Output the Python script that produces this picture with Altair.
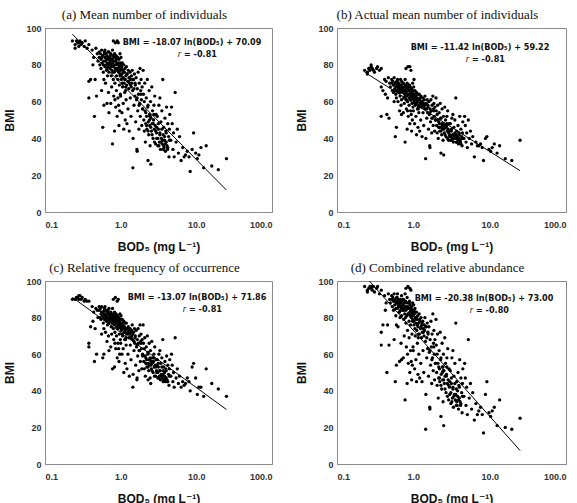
import math

import altair as alt
import pandas as pd

# BOD5 concentration (mg/L) at each sampling site; shared by all four panels
bod5 = [
    0.23, 0.25, 0.26, 0.27, 0.28, 0.29, 0.30, 0.31, 0.33, 0.34, 0.36, 0.38, 0.25, 0.28,
    0.38, 0.38, 0.40, 0.42, 0.44, 0.45, 0.46, 0.47, 0.48, 0.49, 0.50, 0.43,
    0.52, 0.52, 0.53, 0.54, 0.55, 0.55, 0.56, 0.57, 0.58, 0.58, 0.59, 0.60, 0.60, 0.61, 0.62, 0.62, 0.63,
    0.64, 0.64, 0.65, 0.65, 0.66, 0.66, 0.67, 0.67, 0.68, 0.68, 0.69, 0.69, 0.70, 0.70, 0.70, 0.56, 0.60,
    0.72, 0.72, 0.73, 0.74, 0.74, 0.75, 0.75, 0.76, 0.77, 0.78, 0.78, 0.79, 0.80, 0.80, 0.80, 0.81, 0.82,
    0.82, 0.83, 0.83, 0.84, 0.85, 0.85, 0.86, 0.86, 0.87, 0.88, 0.88, 0.89, 0.90, 0.90, 0.90, 0.91, 0.92,
    0.92, 0.93, 0.93, 0.94, 0.95, 0.95, 0.96, 0.97, 0.97, 0.98, 0.98, 0.99, 0.99, 0.76, 0.84, 0.94,
    1.00, 1.00, 1.01, 1.02, 1.03, 1.04, 1.04, 1.05, 1.06, 1.07, 1.08, 1.08, 1.10, 1.10, 1.11, 1.12, 1.13,
    1.14, 1.15, 1.15, 1.17, 1.18, 1.19, 1.20, 1.21, 1.22, 1.24, 1.25, 1.26, 1.28, 1.29, 1.30, 1.31, 1.33,
    1.34, 1.35, 1.37, 1.38, 1.39, 1.02,
    1.42, 1.44, 1.45, 1.46, 1.48, 1.50, 1.52, 1.54, 1.56, 1.58, 1.60, 1.62, 1.64, 1.65, 1.66, 1.68, 1.70,
    1.72, 1.74, 1.76, 1.78, 1.80, 1.82, 1.84, 1.86, 1.88, 1.90, 1.92, 1.95, 1.98,
    2.00, 2.02, 2.05, 2.08, 2.10, 2.12, 2.15, 2.18, 2.20, 2.22, 2.25, 2.28, 2.30, 2.32, 2.35, 2.38, 2.40,
    2.42, 2.45, 2.48, 2.50, 2.52, 2.55, 2.58, 2.60, 2.64, 2.68, 2.72, 2.75, 2.78, 2.82, 2.86, 2.90, 2.94, 2.98,
    3.00, 3.05, 3.10, 3.15, 3.20, 3.25, 3.30, 3.35, 3.40, 3.45, 3.50, 3.55, 3.60, 3.65, 3.70, 3.75, 3.80,
    3.85, 3.90, 3.95, 4.00, 4.05, 4.10, 4.20, 4.30, 4.35, 4.40, 4.45, 3.30, 4.15,
    4.60, 4.70, 4.80, 4.90, 5.00, 5.10, 5.25, 5.40, 5.60, 5.80, 6.00, 6.30, 6.60, 6.90,
    7.20, 7.60, 8.00, 8.30, 8.80, 9.20, 9.80, 10.3, 10.8, 11.5,
    12.5, 13.5, 16.0, 19.5, 25.0,
    0.56, 0.59, 0.61, 0.63, 0.66, 0.68, 0.71, 0.73, 0.75, 0.77, 0.79, 0.81, 0.83, 0.85, 0.87, 0.89, 0.91,
    0.93, 0.96, 0.98, 0.62, 0.70, 0.78, 0.88, 0.95,
    1.01, 1.05, 1.09, 1.13, 1.17, 1.21, 1.26, 1.30, 1.35, 1.40, 1.45, 1.50, 1.55, 1.03, 1.16,
    2.2, 2.3, 2.4, 2.5, 2.6, 2.7, 2.8, 2.9, 3.0, 3.1, 3.2, 3.3, 3.4, 3.5, 3.6, 3.7, 3.8, 3.9, 4.0, 4.2,
    4.4, 2.45, 2.75, 3.15, 3.65,
    1.65, 1.75, 1.85, 1.95, 2.05, 2.15, 2.3, 2.45,
]

# BMI computed from the mean number of individuals
bmi_mean = [
    93, 91, 93, 92, 90, 93, 91, 92, 90, 93, 89, 91, 89, 92,
    71, 62, 72, 88, 84, 52, 72, 89, 63, 86, 82, 80,
    87, 84, 80, 86, 83, 78, 88, 81, 46, 85, 76, 82, 58, 87, 79, 84, 70,
    86, 80, 77, 83, 59, 85, 81, 74, 87, 79, 83, 65, 80, 76, 54, 66, 72,
    84, 78, 82, 59, 86, 80, 74, 83, 77, 37, 81, 85, 93, 72, 79, 63, 84,
    76, 44, 80, 70, 92, 82, 57, 77, 85, 74, 66, 81, 93, 52, 78, 84, 62,
    72, 92, 80, 76, 47, 83, 69, 79, 55, 86, 74, 64, 81, 68, 61, 58,
    77, 63, 84, 72, 79, 54, 75, 81, 68, 77, 73, 59, 80, 45, 70, 76, 65,
    78, 50, 72, 74, 61, 79, 69, 48, 75, 71, 56, 77, 67, 73, 44, 70, 76,
    62, 72, 52, 68, 74, 80,
    77, 66, 24, 40, 72, 58, 75, 63, 69, 49, 73, 61, 34, 33, 67, 55, 76,
    64, 45, 70, 59, 78, 52, 66, 72, 61, 47, 68, 56, 77,
    64, 50, 44, 70, 55, 38, 48, 62, 52, 45, 72, 57, 28, 49, 42, 66, 53,
    47, 36, 60, 26, 51, 44, 68, 48, 55, 40, 50, 58, 45, 63, 47, 37, 53, 43,
    40, 52, 36, 45, 58, 38, 43, 34, 49, 40, 55, 37, 72, 42, 46, 35, 39,
    51, 33, 44, 38, 57, 36, 48, 41, 30, 45, 53, 62, 34,
    39, 57, 48, 34, 43, 30, 65, 38, 45, 32, 41, 28, 35, 30,
    31, 33, 30, 22, 34, 43, 32, 29, 31, 35,
    24, 36, 25, 23, 29,
    84, 80, 86, 82, 78, 84, 81, 85, 79, 83, 76, 82, 86, 78, 80, 84, 77,
    81, 79, 75, 88, 87, 88, 83, 78,
    74, 70, 76, 72, 68, 75, 71, 73, 69, 70, 72, 67, 70, 78, 66,
    47, 44, 50, 46, 42, 48, 38, 44, 46, 40, 36, 42, 38, 45, 39, 36, 41, 37, 43, 35,
    39, 52, 53, 48, 34,
    62, 58, 64, 56, 60, 54, 58, 52,
]

# BMI computed from the actual mean number of individuals
bmi_actual = [
    77, 76, 78, 77, 79, 78, 77, 76, 78, 79, 77, 78, 75, 80,
    68, 52, 66, 72, 71, 53, 62, 73, 51, 70, 68, 64,
    72, 70, 66, 71, 69, 65, 73, 67, 41, 70, 64, 68, 46, 71, 66, 69, 60,
    70, 67, 65, 68, 55, 69, 66, 63, 72, 67, 69, 58, 66, 61, 53, 60, 62,
    68, 65, 67, 54, 70, 66, 62, 68, 64, 38, 66, 69, 78, 61, 65, 56, 68,
    63, 45, 66, 60, 79, 67, 52, 64, 69, 62, 58, 66, 79, 48, 64, 68, 55,
    61, 77, 65, 63, 44, 67, 59, 65, 50, 70, 62, 57, 66, 59, 55, 53,
    63, 55, 68, 60, 64, 48, 62, 66, 58, 63, 61, 52, 65, 42, 59, 62, 56,
    64, 46, 60, 61, 54, 64, 58, 44, 62, 59, 50, 63, 57, 60, 41, 58, 62,
    54, 59, 47, 57, 61, 72,
    63, 56, 29, 40, 59, 51, 61, 54, 57, 45, 60, 53, 36, 35, 56, 49, 61,
    55, 43, 58, 51, 63, 47, 56, 59, 52, 44, 57, 50, 62,
    55, 47, 43, 58, 50, 40, 46, 54, 48, 44, 59, 51, 32, 46, 42, 56, 48,
    45, 39, 52, 31, 47, 43, 57, 46, 50, 41, 47, 52, 44, 55, 45, 39, 48, 42,
    41, 48, 39, 44, 51, 40, 42, 38, 46, 41, 50, 40, 62, 42, 44, 38, 40,
    47, 37, 43, 40, 52, 39, 45, 41, 36, 43, 49, 53, 38,
    40, 52, 47, 38, 43, 35, 50, 40, 44, 37, 41, 30, 38, 36,
    36, 37, 35, 28, 40, 41, 34, 33, 35, 37,
    32, 36, 29, 28, 39,
    69, 66, 71, 68, 65, 69, 67, 70, 66, 68, 63, 67, 70, 64, 66, 69, 63,
    66, 65, 62, 72, 71, 72, 68, 64,
    61, 59, 62, 60, 57, 61, 59, 60, 57, 58, 59, 56, 58, 63, 56,
    46, 44, 47, 45, 42, 46, 40, 43, 44, 41, 39, 42, 40, 43, 40, 38, 41, 39, 42, 37,
    40, 48, 48, 45, 38,
    54, 51, 55, 50, 53, 49, 51, 48,
]

# BMI computed from the relative frequency of occurrence
bmi_frequency = [
    90, 90, 91, 91, 90, 92, 90, 91, 89, 90, 89, 89, 90, 92,
    66, 64, 75, 86, 83, 56, 74, 85, 60, 84, 80, 78,
    86, 84, 80, 85, 82, 79, 86, 81, 58, 83, 77, 82, 60, 85, 79, 82, 72,
    84, 80, 78, 81, 67, 83, 80, 76, 84, 79, 82, 70, 79, 77, 62, 71, 74,
    81, 78, 80, 64, 83, 79, 75, 81, 77, 52, 80, 82, 90, 74, 78, 68, 81,
    76, 53, 79, 72, 91, 80, 63, 77, 82, 75, 70, 80, 89, 58, 78, 81, 66,
    74, 90, 79, 76, 56, 80, 71, 78, 60, 82, 75, 68, 79, 71, 66, 63,
    76, 66, 81, 73, 77, 60, 75, 79, 70, 76, 74, 63, 78, 50, 72, 75, 68,
    77, 55, 73, 74, 65, 77, 71, 52, 74, 72, 60, 75, 69, 73, 48, 71, 74,
    65, 72, 57, 69, 73, 79,
    76, 68, 42, 49, 72, 62, 74, 66, 70, 54, 73, 64, 46, 47, 68, 59, 74,
    66, 51, 70, 62, 76, 56, 67, 71, 63, 52, 68, 59, 76,
    66, 56, 52, 69, 59, 48, 55, 64, 57, 53, 70, 60, 46, 55, 51, 66, 57,
    54, 47, 62, 44, 56, 52, 67, 55, 58, 50, 56, 60, 53, 64, 54, 48, 57, 51,
    50, 57, 47, 53, 60, 48, 51, 46, 55, 49, 58, 47, 68, 51, 53, 46, 48,
    56, 45, 52, 47, 59, 46, 54, 49, 43, 52, 57, 62, 45,
    48, 60, 54, 45, 50, 42, 69, 47, 52, 44, 48, 42, 45, 43,
    44, 47, 45, 40, 53, 55, 47, 38, 42, 42,
    37, 52, 44, 41, 37,
    83, 80, 84, 81, 79, 83, 80, 82, 79, 81, 77, 80, 83, 78, 79, 81, 76,
    79, 78, 75, 86, 85, 85, 81, 77,
    74, 71, 75, 72, 69, 74, 71, 72, 69, 70, 71, 67, 69, 76, 68,
    55, 53, 57, 54, 51, 56, 48, 53, 54, 50, 47, 51, 48, 53, 49, 46, 50, 47, 51, 45,
    48, 58, 58, 55, 45,
    65, 62, 66, 60, 63, 58, 61, 57,
]

# BMI computed from the combined relative abundance
bmi_combined = [
    97, 95, 96, 97, 96, 95, 97, 94, 96, 97, 93, 95, 94, 97,
    72, 65, 76, 92, 88, 50, 76, 93, 65, 90, 88, 84,
    92, 90, 86, 91, 89, 84, 93, 87, 45, 90, 81, 88, 54, 91, 85, 89, 75,
    90, 86, 83, 88, 56, 87, 86, 80, 90, 84, 88, 66, 85, 81, 57, 68, 76,
    89, 84, 87, 58, 90, 85, 79, 88, 82, 35, 86, 89, 96, 77, 84, 64, 88,
    81, 44, 85, 73, 97, 86, 55, 82, 88, 78, 69, 85, 96, 50, 83, 87, 62,
    76, 95, 84, 80, 46, 86, 71, 83, 54, 88, 78, 64, 84, 70, 60, 56,
    81, 62, 87, 76, 83, 52, 79, 85, 70, 80, 77, 57, 83, 45, 73, 79, 66,
    81, 49, 75, 77, 60, 82, 71, 47, 78, 74, 55, 80, 69, 76, 45, 72, 78,
    62, 74, 50, 70, 76, 84,
    80, 67, 19, 38, 75, 58, 77, 63, 71, 48, 75, 61, 31, 30, 68, 54, 78,
    64, 44, 71, 58, 82, 51, 66, 73, 60, 46, 68, 55, 79,
    65, 50, 43, 71, 55, 36, 47, 62, 52, 45, 72, 57, 26, 49, 41, 66, 53,
    46, 34, 60, 21, 51, 44, 69, 48, 55, 39, 49, 58, 44, 63, 46, 35, 52, 42,
    38, 51, 33, 44, 58, 36, 42, 31, 48, 38, 55, 35, 77, 41, 45, 32, 37,
    50, 30, 43, 36, 57, 34, 47, 39, 28, 44, 52, 62, 32,
    37, 55, 47, 32, 42, 27, 68, 36, 44, 30, 39, 24, 33, 27,
    29, 31, 27, 17, 38, 45, 28, 26, 29, 31,
    21, 35, 20, 19, 25,
    89, 85, 91, 87, 83, 89, 86, 90, 84, 88, 80, 86, 91, 82, 85, 89, 81,
    85, 83, 79, 93, 92, 93, 88, 82,
    78, 74, 80, 76, 71, 79, 75, 77, 72, 73, 75, 69, 72, 82, 69,
    47, 43, 50, 46, 41, 48, 37, 43, 45, 39, 34, 41, 37, 44, 38, 34, 40, 35, 42, 33,
    37, 53, 53, 47, 32,
    62, 57, 64, 55, 60, 53, 58, 51,
]

panel_titles = [
    "(a)  Mean  number  of  individuals",
    "(b)  Actual  mean  number  of  individuals",
    "(c)  Relative  frequency  of  occurrence",
    "(d)  Combined  relative  abundance",
]
bmi_series = [bmi_mean, bmi_actual, bmi_frequency, bmi_combined]

# Logarithmic fits: BMI = slope * ln(BOD5) + intercept
slopes = [-18.07, -11.42, -13.07, -20.38]
intercepts = [70.09, 59.22, 71.86, 73.00]
r_values = [-0.81, -0.81, -0.81, -0.80]
fit_start = [0.23, 0.23, 0.23, 0.266]
fit_end = [25.0, 25.0, 25.0, 25.0]

x_ticks = [0.1, 1, 10, 100]
y_ticks = [0, 20, 40, 60, 80, 100]

ANN_FONT = "Liberation Sans Narrow, DejaVu Sans Condensed, Liberation Sans"


def panel(i, width, height, ann_x, ann_y):
    pts = pd.DataFrame({"BOD5": bod5, "BMI": bmi_series[i]})
    xs = [fit_start[i], fit_end[i]]
    fit = pd.DataFrame(
        {"BOD5": xs, "BMI": [slopes[i] * math.log(v) + intercepts[i] for v in xs]}
    )

    x = alt.X(
        "BOD5:Q",
        scale=alt.Scale(type="log", domain=[0.1, 100], nice=False),
        axis=alt.Axis(
            title="BOD₅  (mg  L⁻¹)",
            values=x_ticks,
            format=".1f",
            labelPadding=8,
            titlePadding=12,
        ),
    )
    y = alt.Y(
        "BMI:Q",
        scale=alt.Scale(domain=[0, 100], nice=False),
        axis=alt.Axis(title="BMI", values=y_ticks, labelPadding=4, titlePadding=9),
    )

    dots = alt.Chart(pts).mark_circle(size=11, color="black", opacity=1).encode(x=x, y=y)
    line = alt.Chart(fit).mark_line(color="black", strokeWidth=1).encode(x=x, y=y)

    sign = "+" if intercepts[i] >= 0 else "-"
    eq_text = f"BMI = {slopes[i]:.2f} ln(BOD₅) {sign} {abs(intercepts[i]):.2f}"
    eq = alt.Chart(pd.DataFrame({"t": [eq_text]})).mark_text(
        font=ANN_FONT, fontSize=9, fontWeight="bold", color="#111", align="center", baseline="middle"
    ).encode(text="t:N", x=alt.value(ann_x), y=alt.value(ann_y))
    r_sym = alt.Chart(pd.DataFrame({"t": ["r"]})).mark_text(
        font=ANN_FONT, fontSize=9, fontStyle="italic", color="#111", align="right", baseline="middle"
    ).encode(text="t:N", x=alt.value(ann_x - 11), y=alt.value(ann_y + 12))
    r_val = alt.Chart(pd.DataFrame({"t": [f"= {r_values[i]:.2f}"]})).mark_text(
        font=ANN_FONT, fontSize=9, fontWeight="bold", color="#111", align="left", baseline="middle"
    ).encode(text="t:N", x=alt.value(ann_x - 8), y=alt.value(ann_y + 12))

    return alt.layer(dots, line, eq, r_sym, r_val).properties(
        width=width,
        height=height,
        title=alt.TitleParams(panel_titles[i], dx=-14, offset=2),
    )


chart = (
    alt.concat(
        panel(0, 227, 184, 147, 14),
        panel(1, 229, 184, 143, 19),
        panel(2, 227, 183, 152, 16),
        panel(3, 229, 183, 147, 17),
        columns=2,
        spacing={"row": 69, "column": 65},
        bounds="flush",
    )
    .properties(padding={"left": 3, "top": 8, "right": 0, "bottom": 0})
    .configure_view(stroke="#8a8a8a", strokeWidth=1)
    .configure_axis(
        grid=False,
        ticks=False,
        domainColor="#8a8a8a",
        labelFont="Liberation Sans",
        labelFontSize=9,
        labelFontWeight="bold",
        labelColor="#333333",
        titleFont="Liberation Sans, DejaVu Sans",
        titleFontSize=12,
        titleFontWeight="bold",
        titleColor="#111111",
    )
    .configure_title(
        font="Liberation Serif",
        fontSize=13,
        fontWeight="normal",
        color="#111111",
        anchor="middle",
    )
)

chart.save("out.html", embed_options={"renderer": "svg", "actions": False})
